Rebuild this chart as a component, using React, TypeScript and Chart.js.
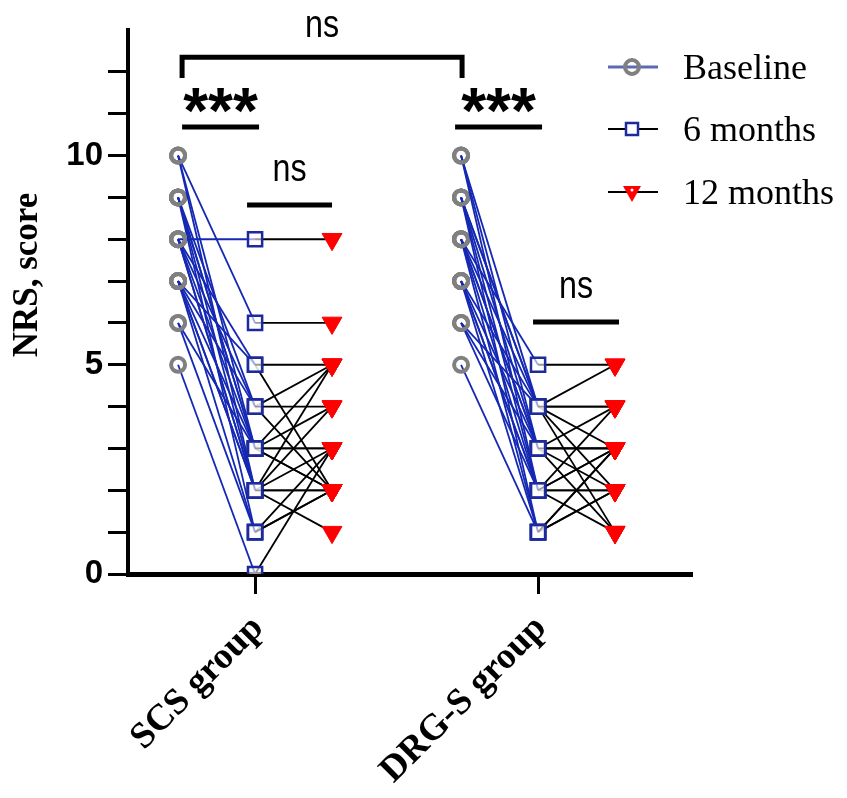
import React, { useEffect, useRef } from 'react';
import { Chart, registerables } from 'chart.js';

Chart.register(...registerables);

// ---- Data ----
const groups = ['SCS group', 'DRG-S group'];
const timepoints = ['Baseline', '6 months', '12 months'];

// SCS group patients (NRS score)
const scsBaseline = [10, 10, 10, 9, 9, 9, 9, 8, 8, 8, 8, 8, 7, 7, 7, 7, 7, 6, 6, 5, 8, 9, 7];
const scs6m = [6, 3, 2, 4, 3, 3, 2, 8, 5, 4, 3, 2, 5, 3, 2, 2, 1, 3, 1, 0, 2, 1, 4];
const scs12m = [6, 3, 2, 4, 2, 5, 3, 8, 5, 5, 3, 2, 2, 4, 4, 5, 2, 2, 3, 3, 1, 2, 2];

// DRG-S group patients (NRS score)
const drgBaseline = [10, 10, 10, 9, 9, 9, 9, 8, 8, 8, 8, 8, 7, 7, 7, 7, 6, 6, 6, 5, 9, 8, 7];
const drg6m = [4, 3, 2, 4, 3, 2, 1, 5, 4, 3, 2, 1, 4, 3, 2, 1, 4, 3, 2, 1, 4, 3, 2];
const drg12m = [4, 3, 3, 3, 2, 2, 3, 5, 4, 1, 4, 2, 5, 3, 1, 3, 2, 4, 3, 2, 1, 3, 2];

const yTickLabels = [0, 5, 10];

// significance annotations
const sigText = ['***', 'ns', '***', 'ns', 'ns'];

const BLUE = '#1428b4';
const NAVY = '#1c2a9c';
const GRAY = '#808080';
const RED = '#ff0000';
const SERIF = '"Liberation Serif", "Times New Roman", serif';
const SANS = '"Liberation Sans", Arial, sans-serif';
const OFF = [-0.272, 0, 0.272];

function buildDatasets() {
  const sets: any[] = [];
  const add = (g: number, b: number[], m: number[], t: number[]) => {
    b.forEach((_, i) => {
      const vals = [b[i], m[i], t[i]];
      sets.push({
        label: `${groups[g]} #${i + 1}`,
        data: vals.map((v, k) => ({ x: g + 1 + OFF[k], y: v })),
        borderWidth: 1.8,
        borderColor: '#000',
        segment: {
          borderColor: (ctx: any) => (ctx.p0DataIndex === 0 ? BLUE : '#000'),
        },
        pointStyle: ['circle', 'rect', 'triangle'],
        pointRotation: [0, 0, 180],
        pointRadius: [7, 10, 11.5],
        pointBorderWidth: [4, 2.5, 1],
        pointBorderColor: [GRAY, NAVY, RED],
        pointBackgroundColor: ['rgba(0,0,0,0)', 'rgba(255,255,255,0.6)', RED],
        fill: false,
        tension: 0,
      });
    });
  };
  add(0, scsBaseline, scs6m, scs12m);
  add(1, drgBaseline, drg6m, drg12m);
  return sets;
}

const annotPlugin = {
  id: 'annot',
  afterDraw(chart: any) {
    const ctx = chart.ctx;
    const xs = chart.scales.x;
    const ys = chart.scales.y;
    const px = (g: number, t: number) => xs.getPixelForValue(g + 1 + OFF[t]);
    const py = (v: number) => ys.getPixelForValue(v);
    ctx.save();
    ctx.strokeStyle = '#000';
    ctx.fillStyle = '#000';
    ctx.lineCap = 'butt';

    const hline = (x1: number, x2: number, y: number) => {
      ctx.lineWidth = 5;
      ctx.beginPath();
      ctx.moveTo(x1, y);
      ctx.lineTo(x2, y);
      ctx.stroke();
    };
    const stars = (x: number, yBase: number) => {
      ctx.font = `bold 64px ${SANS}`;
      ctx.textAlign = 'center';
      ctx.textBaseline = 'alphabetic';
      ctx.fillText(sigText[0], x, yBase);
    };
    const ns = (txt: string, x: number, yBase: number) => {
      ctx.save();
      ctx.translate(x, yBase);
      ctx.scale(0.85, 1);
      ctx.font = `38px ${SANS}`;
      ctx.textAlign = 'center';
      ctx.textBaseline = 'alphabetic';
      ctx.fillText(txt, 0, 0);
      ctx.restore();
    };

    // SCS baseline vs 6 months
    let x1 = px(0, 0) + 4, x2 = px(0, 1) + 4, y = py(10.68);
    hline(x1, x2, y);
    stars((x1 + x2) / 2, y + 6);
    // SCS 6 vs 12 months
    x1 = px(0, 1) - 8; x2 = px(0, 2); y = py(8.82);
    hline(x1, x2, y);
    ns(sigText[1], (x1 + x2) / 2, py(9.4));
    // DRG baseline vs 6 months
    x1 = px(1, 0) - 6; x2 = px(1, 1) + 4; y = py(10.68);
    hline(x1, x2, y);
    stars((x1 + x2) / 2, y + 6);
    // DRG 6 vs 12 months
    x1 = px(1, 1) - 5; x2 = px(1, 2) + 4; y = py(6.02);
    hline(x1, x2, y);
    ns(sigText[3], (x1 + x2) / 2, py(6.6));
    // between groups bracket
    x1 = px(0, 0) + 4; x2 = px(1, 0) + 1;
    const yTop = py(12.35), yTip = py(11.85);
    ctx.lineWidth = 5;
    ctx.lineJoin = 'miter';
    ctx.beginPath();
    ctx.moveTo(x1, yTip);
    ctx.lineTo(x1, yTop);
    ctx.lineTo(x2, yTop);
    ctx.lineTo(x2, yTip);
    ctx.stroke();
    ns(sigText[4], (x1 + x2) / 2, py(12.83));

    // y axis title
    ctx.save();
    ctx.translate(37, 275);
    ctx.rotate(-Math.PI / 2);
    ctx.font = `bold 35px ${SERIF}`;
    ctx.textAlign = 'center';
    ctx.textBaseline = 'alphabetic';
    ctx.fillText('NRS, score', 0, 0);
    ctx.restore();

    // legend
    const lx1 = 608, lx2 = 658, mx = 632, tx = 683;
    const rows = [67, 129, 192];
    ctx.font = `36px ${SERIF}`;
    ctx.textAlign = 'left';
    ctx.textBaseline = 'alphabetic';
    timepoints.forEach((name, i) => {
      const yy = rows[i];
      ctx.lineWidth = i === 0 ? 3 : 2;
      ctx.strokeStyle = i === 0 ? '#5a6cb0' : '#000';
      ctx.beginPath();
      ctx.moveTo(lx1, yy);
      ctx.lineTo(lx2, yy);
      ctx.stroke();
      if (i === 0) {
        ctx.lineWidth = 4;
        ctx.strokeStyle = GRAY;
        ctx.beginPath();
        ctx.arc(mx, yy, 7, 0, Math.PI * 2);
        ctx.stroke();
      } else if (i === 1) {
        ctx.fillStyle = '#fff';
        ctx.fillRect(mx - 6, yy - 6, 12, 12);
        ctx.lineWidth = 2.5;
        ctx.strokeStyle = NAVY;
        ctx.strokeRect(mx - 6, yy - 6, 12, 12);
      } else {
        ctx.fillStyle = RED;
        ctx.beginPath();
        ctx.moveTo(mx - 9, yy - 6);
        ctx.lineTo(mx + 9, yy - 6);
        ctx.lineTo(mx, yy + 10);
        ctx.closePath();
        ctx.fill();
        ctx.fillStyle = '#fff';
        ctx.beginPath();
        ctx.arc(mx, yy - 2, 1.5, 0, Math.PI * 2);
        ctx.fill();
      }
      ctx.fillStyle = '#000';
      ctx.fillText(name, tx, yy + 12);
    });
    ctx.restore();
  },
};

export default function App() {
  const ref = useRef<HTMLCanvasElement | null>(null);
  useEffect(() => {
    if (!ref.current) return;
    const chart = new Chart(ref.current, {
      type: 'line',
      data: { datasets: buildDatasets() },
      options: {
        animation: false,
        responsive: false,
        maintainAspectRatio: false,
        layout: { padding: { left: 0, top: 30, right: 155, bottom: 0 } },
        plugins: { legend: { display: false }, tooltip: { enabled: false } },
        scales: {
          x: {
            type: 'linear',
            min: 0.551,
            max: 2.544,
            afterBuildTicks: (s: any) => {
              s.ticks = groups.map((_, i) => ({ value: i + 1 }));
            },
            afterFit: (s: any) => {
              s.height = 224;
            },
            grid: {
              drawOnChartArea: false,
              drawTicks: true,
              tickLength: 20,
              tickWidth: 3,
              tickColor: '#000',
            },
            border: { display: true, color: '#000', width: 5 },
            ticks: {
              autoSkip: false,
              minRotation: 45,
              maxRotation: 45,
              padding: 13,
              labelOffset: 3,
              color: '#000',
              font: { family: SERIF, size: 37, weight: 'bold' },
              callback: (_v: any, i: number) => groups[i],
            },
          },
          y: {
            type: 'linear',
            min: 0,
            max: 13,
            afterBuildTicks: (s: any) => {
              const t: any[] = [];
              for (let v = 0; v <= 12; v++) t.push({ value: v });
              s.ticks = t;
            },
            afterFit: (s: any) => {
              s.width = 128;
            },
            grid: {
              drawOnChartArea: false,
              drawTicks: true,
              tickLength: 20,
              tickWidth: 3,
              tickColor: '#000',
            },
            border: { display: true, color: '#000', width: 4 },
            ticks: {
              autoSkip: false,
              padding: 5,
              color: '#000',
              font: { family: SANS, size: 33, weight: 'bold' },
              callback: (v: any) => (yTickLabels.includes(Number(v)) ? String(v) : ''),
            },
          },
        },
      },
      plugins: [annotPlugin],
    } as any);
    return () => chart.destroy();
  }, []);
  return (
    <div style={{ position: 'fixed', left: 0, top: 0, width: 847, height: 798, background: '#fff' }}>
      <canvas ref={ref} width={847} height={798} style={{ display: 'block' }} />
    </div>
  );
}
